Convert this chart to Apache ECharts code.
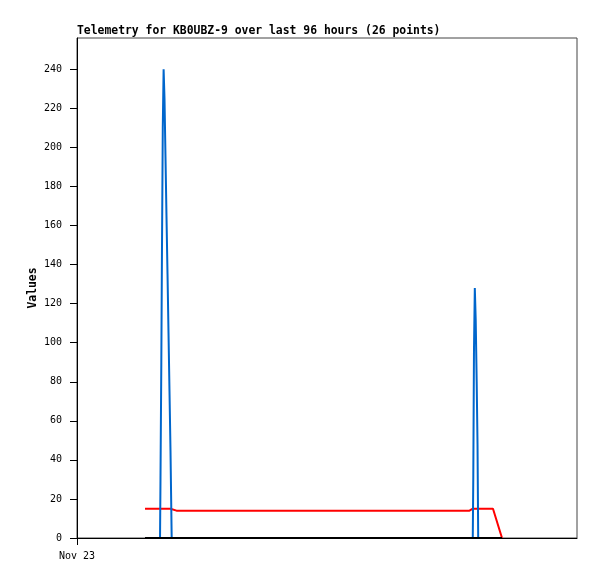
<!DOCTYPE html>
<html>
<head>
<meta charset="utf-8">
<script src="https://cdn.jsdelivr.net/npm/echarts@6/dist/echarts.min.js"></script>
<style>html,body{margin:0;padding:0;background:#fff}#c{width:597px;height:579px}</style>
</head>
<body>
<div id="c"></div>
<script>
// Hours since Nov 23 00:00
var times = [13.06, 15.94, 16.03, 16.19, 16.32, 16.47, 16.63, 16.80, 16.99, 17.18, 17.38, 17.57, 17.76, 17.95, 18.18, 19.10,
             75.36, 75.99, 76.09, 76.22, 76.38, 76.55, 76.74, 76.90, 77.03, 79.87, 81.60];
var blueValues = [0, 0, 30, 90, 150, 210, 240, 225, 195, 165, 135, 105, 75, 45, 0, 0,
                  0, 0, 32, 96, 128, 112, 80, 48, 0, 0, 0];
var redValues = [15, 15, 15, 15, 15, 15, 15, 15, 15, 15, 15, 15, 15, 15, 15, 14,
                 14, 15, 15, 15, 15, 15, 15, 15, 15, 15, 0];
var blackValues = [0, 0, 0, 0, 0, 0, 0, 0, 0, 0, 0, 0, 0, 0, 0, 0,
                   0, 0, 0, 0, 0, 0, 0, 0, 0, 0, 0];
var yTicks = [0, 20, 40, 60, 80, 100, 120, 140, 160, 180, 200, 220, 240];
var xTickValues = [0];
var xTickLabels = ['Nov 23'];
var titleText = 'Telemetry for KB0UBZ-9 over last 96 hours (26 points)';
var yName = 'Values';

function pairs(vals) { return times.map(function (t, i) { return [t, vals[i]]; }); }

var font = 'DejaVu Sans Mono';
var chart = echarts.init(document.getElementById('c'));
chart.setOption({
  animation: false,
  backgroundColor: '#fff',
  title: {
    text: titleText, left: 77, top: 26, padding: 0,
    textStyle: { fontFamily: font, fontSize: 11.4, fontWeight: 'bold', color: '#000' }
  },
  grid: { left: 77, right: 20, top: 38, bottom: 41, show: true, borderColor: '#444', borderWidth: 1, containLabel: false },
  xAxis: {
    type: 'value', min: 0, max: 96,
    axisLine: { show: true, lineStyle: { color: '#000', width: 1 } },
    axisTick: { show: true, length: 7, customValues: xTickValues, lineStyle: { color: '#000' } },
    axisLabel: {
      customValues: xTickValues, margin: 13,
      fontFamily: font, fontSize: 10, color: '#000',
      formatter: function (v) { var i = xTickValues.indexOf(v); return i >= 0 ? xTickLabels[i] : ''; }
    },
    splitLine: { show: false }
  },
  yAxis: {
    type: 'value', min: 0, max: 256,
    name: yName, nameLocation: 'middle', nameGap: 38, nameMoveOverlap: false,
    nameTextStyle: { fontFamily: font, fontSize: 11.4, fontWeight: 'bold', color: '#000' },
    axisLine: { show: true, lineStyle: { color: '#000', width: 1 } },
    axisTick: { show: true, length: 7, customValues: yTicks, lineStyle: { color: '#000' } },
    axisLabel: { customValues: yTicks, margin: 15, fontFamily: font, fontSize: 10, color: '#000' },
    splitLine: { show: false }
  },
  series: [
    { type: 'line', data: pairs(redValues), showSymbol: false, z: 2, lineStyle: { color: '#ff0000', width: 2 } },
    { type: 'line', data: pairs(blueValues), showSymbol: false, z: 3, lineStyle: { color: '#0066cc', width: 2 } },
    { type: 'line', data: pairs(blackValues), showSymbol: false, z: 4, lineStyle: { color: '#000000', width: 2 } }
  ]
});
</script>
</body>
</html>
